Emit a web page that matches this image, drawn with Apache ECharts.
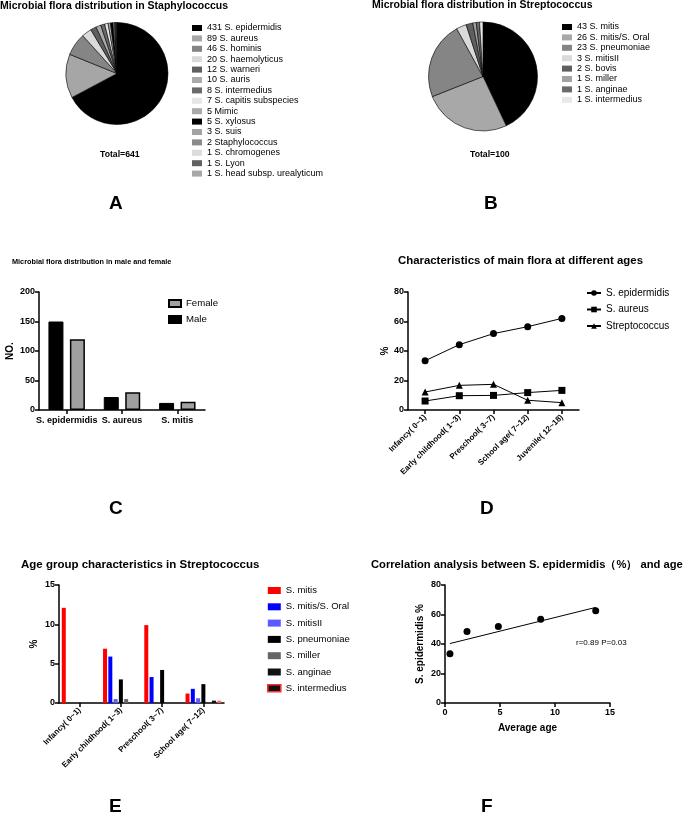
<!DOCTYPE html>
<html><head><meta charset="utf-8">
<script src="https://cdn.jsdelivr.net/npm/echarts@6/dist/echarts.min.js"></script>
<style>html,body{margin:0;padding:0;background:#fff}#c{width:685px;height:815px}</style>
</head><body><div id="c"></div>
<script>
// ---------- DATA ----------
const staphNames = ['S. epidermidis','S. aureus','S. hominis','S. haemolyticus','S. warneri','S. auris','S. intermedius','S. capitis subspecies','Mimic','S. xylosus','S. suis','Staphylococcus','S. chromogenes','S. Lyon','S. head subsp. urealyticum'];
const staphCounts = [431,89,46,20,12,10,8,7,5,5,3,2,1,1,1];
const strepNames = ['S. mitis','S. mitis/S. Oral','S. pneumoniae','S. mitisII','S. bovis','S. miller','S. anginae','S. intermedius'];
const strepCounts = [43,26,23,3,2,1,1,1];

const genderCategories = ['S. epidermidis','S. aureus','S. mitis'];
const maleCounts = [150,22,12];
const femaleCounts = [120,30,14];

const ageCategories = ['Infancy( 0~1)','Early childhood( 1~3)','Preschool( 3~7)','School age( 7~12)','Juvenile( 12~18)'];
const epiPctByAge = [33.4,44.3,51.8,56.5,62.1];
const aureusPctByAge = [6.1,9.7,9.9,11.8,13.3];
const strepPctByAge = [12.2,16.7,17.4,6.6,5.0];

const strepAgeCategories = ['Infancy( 0~1)','Early childhood( 1~3)','Preschool( 3~7)','School age( 7~12)'];
const eSeriesNames = ['S. mitis','S. mitis/S. Oral','S. mitisII','S. pneumoniae','S. miller','S. anginae','S. intermedius'];
const eMitis = [12.1,6.9,9.9,1.2];
const eMitisOral = [0,5.9,3.3,1.8];
const eMitisII = [0,0.5,0,0.6];
const ePneumoniae = [0,3.0,4.2,2.4];
const eMiller = [0,0.5,0,0];
const eAnginae = [0,0,0,0.3];
const eIntermedius = [0,0,0,0.3];

const avgAge = [0.45,2.0,4.85,8.7,13.7];
const epiPct = [33.4,48.4,51.8,56.8,62.5];
const fitLineX = [0.45,13.7];
const fitLineY = [40.3,64.8];
const corrText = 'r=0.89 P=0.03';

// ---------- STYLES ----------
const FONT = "'Liberation Sans', Arial, sans-serif";
const staphColors = ['#000000','#a6a6a6','#858585','#dadada','#5f5f5f','#aaaaaa','#6a6a6a','#e6e6e6','#a9a9a9','#000000','#a3a3a3','#8a8a8a','#dcdcdc','#616161','#a8a8a8'];
const strepColors = ['#000000','#a8a8a8','#858585','#dadada','#5f5f5f','#a3a3a3','#6a6a6a','#e8e8e8'];
const eColors = ['#ff0000','#0000ff','#5b5bff','#000000','#666666','#111111','#ff6666'];

const staphLabels = staphNames.map((n,i)=>staphCounts[i]+' '+n);
const strepLabels = strepNames.map((n,i)=>strepCounts[i]+' '+n);
const eData = [eMitis,eMitisOral,eMitisII,ePneumoniae,eMiller,eAnginae,eIntermedius];

function ttl(text,left,top,size,weight){
  return {text,left,top,padding:0,textStyle:{fontFamily:FONT,fontSize:size,fontWeight:weight||'bold',color:'#000'}};
}
const axisLine = {show:true,lineStyle:{color:'#000',width:1.5}};
const axisTick = {show:true,length:4,lineStyle:{color:'#000',width:1.5}};
const lblBold = {fontFamily:FONT,fontWeight:'bold',fontSize:9,color:'#000'};
function catX(gi,data,rot){
  return {type:'category',gridIndex:gi,data,axisLine,axisTick:Object.assign({alignWithLabel:true},axisTick),
    axisLabel:Object.assign({interval:0,rotate:rot||0,margin:6},lblBold,rot?{fontSize:8}:{}),splitLine:{show:false}};
}
function valY(gi,min,max,interval,name,gap){
  return {type:'value',gridIndex:gi,min,max,interval,axisLine,axisTick,
    axisLabel:Object.assign({margin:4},lblBold),splitLine:{show:false},
    name,nameLocation:'middle',nameGap:gap,nameRotate:90,
    nameTextStyle:{fontFamily:FONT,fontWeight:'bold',fontSize:10,color:'#000'}};
}
const noBorder = {borderWidth:0};

const option = {
  animation:false,
  backgroundColor:'#fff',
  title:[
    ttl('Microbial flora distribution in Staphylococcus',0,1,10.5),
    ttl('Microbial flora distribution in Streptococcus',372,0,10.5),
    ttl('Total=641',100,150,8.7),
    ttl('Total=100',470,150,8.7),
    ttl('A',109,194,19),
    ttl('B',484,194,19),
    ttl('Microbial flora distribution in male and female',12,258,7.3),
    ttl('Characteristics of main flora at different ages',398,255,11.4),
    ttl('C',109,499,19),
    ttl('D',480,499,19),
    ttl('Age group characteristics in Streptococcus',21,559,11.5),
    ttl('Correlation analysis between S. epidermidis（%） and age',371,559,11.2),
    ttl(corrText,576,639,8,'normal'),
    ttl('E',109,797,19),
    ttl('F',481,797,19)
  ],
  legend:[
    {orient:'vertical',left:192,top:23,padding:0,itemWidth:10,itemHeight:6,itemGap:0.4,icon:'rect',itemStyle:noBorder,
     data:staphLabels,textStyle:{fontFamily:FONT,fontSize:9,color:'#000',lineHeight:10},selectedMode:false},
    {orient:'vertical',left:562,top:22,padding:0,itemWidth:10,itemHeight:6,itemGap:0.4,icon:'rect',itemStyle:noBorder,
     data:strepLabels,textStyle:{fontFamily:FONT,fontSize:9,color:'#000',lineHeight:10},selectedMode:false},
    {orient:'vertical',left:168,top:298,padding:0,itemWidth:12,itemHeight:7,itemGap:5,icon:'rect',
     data:['Female','Male'],textStyle:{fontFamily:FONT,fontSize:9.6,color:'#000',lineHeight:11},selectedMode:false},
    {orient:'vertical',left:586,top:287,padding:0,itemWidth:14,itemHeight:7,itemGap:4.5,
     data:['S. epidermidis','S. aureus','Streptococcus'],textStyle:{fontFamily:FONT,fontSize:10,color:'#000',lineHeight:12},selectedMode:false},
    {orient:'vertical',left:267,top:585,padding:0,itemWidth:13,itemHeight:7,itemGap:5.3,icon:'rect',
     data:eSeriesNames.map(n=>n==='S. intermedius'
        ?{name:n,itemStyle:{color:'#111',borderColor:'#ff3030',borderWidth:1.6}}
        :{name:n}),
     textStyle:{fontFamily:FONT,fontSize:9.5,color:'#000',lineHeight:11},selectedMode:false}
  ],
  grid:[
    {left:39,top:292,width:166,height:118,outerBoundsMode:'none',containLabel:false},
    {left:408,top:292,width:171,height:118,outerBoundsMode:'none',containLabel:false},
    {left:59,top:585,width:165,height:118,outerBoundsMode:'none',containLabel:false},
    {left:445,top:585,width:165,height:118,outerBoundsMode:'none',containLabel:false}
  ],
  xAxis:[
    catX(0,genderCategories),
    catX(1,ageCategories,45),
    catX(2,strepAgeCategories,45),
    {type:'value',gridIndex:3,min:0,max:15,interval:5,axisLine,axisTick,
     axisLabel:Object.assign({margin:5},lblBold,{fontSize:9}),splitLine:{show:false},
     name:'Average age',nameLocation:'middle',nameGap:20,
     nameTextStyle:{fontFamily:FONT,fontWeight:'bold',fontSize:10,color:'#000'}}
  ],
  yAxis:[
    valY(0,0,200,50,'NO.',24),
    valY(1,0,80,20,'%',17),
    valY(2,0,15,5,'%',20),
    valY(3,0,80,20,'S. epidermidis %',20)
  ],
  series:[
    {type:'pie',name:'Staph',center:[117,73.5],radius:51,startAngle:90,clockwise:true,
     label:{show:false},labelLine:{show:false},silent:true,
     itemStyle:{borderColor:'#000',borderWidth:0.6},
     data:staphLabels.map((n,i)=>({name:n,value:staphCounts[i],itemStyle:{color:staphColors[i]}}))},
    {type:'pie',name:'Strep',center:[483,76.5],radius:54.5,startAngle:90,clockwise:true,
     label:{show:false},labelLine:{show:false},silent:true,
     itemStyle:{borderColor:'#000',borderWidth:0.6},
     data:strepLabels.map((n,i)=>({name:n,value:strepCounts[i],itemStyle:{color:strepColors[i]}}))},
    {type:'bar',name:'Male',xAxisIndex:0,yAxisIndex:0,data:maleCounts,barWidth:15,barGap:'43%',
     itemStyle:{color:'#000',borderColor:'#000',borderWidth:1}},
    {type:'bar',name:'Female',xAxisIndex:0,yAxisIndex:0,data:femaleCounts,barWidth:15,barGap:'43%',
     itemStyle:{color:'#a0a0a0',borderColor:'#000',borderWidth:1.5}},
    {type:'line',name:'S. epidermidis',xAxisIndex:1,yAxisIndex:1,data:epiPctByAge,symbol:'circle',symbolSize:7,
     lineStyle:{color:'#000',width:1},itemStyle:{color:'#000'}},
    {type:'line',name:'S. aureus',xAxisIndex:1,yAxisIndex:1,data:aureusPctByAge,symbol:'rect',symbolSize:7,
     lineStyle:{color:'#000',width:1},itemStyle:{color:'#000'}},
    {type:'line',name:'Streptococcus',xAxisIndex:1,yAxisIndex:1,data:strepPctByAge,symbol:'triangle',symbolSize:7,
     lineStyle:{color:'#000',width:1},itemStyle:{color:'#000'}},
    ...eSeriesNames.map((n,i)=>({
      type:'bar',name:n,xAxisIndex:2,yAxisIndex:2,data:eData[i],barWidth:4,barGap:'32%',
      itemStyle:{color:eColors[i]}
    })),
    {type:'scatter',name:'pts',xAxisIndex:3,yAxisIndex:3,symbolSize:7,itemStyle:{color:'#000',opacity:1},
     data:avgAge.map((x,i)=>[x,epiPct[i]])},
    {type:'line',name:'fit',xAxisIndex:3,yAxisIndex:3,showSymbol:false,symbol:'none',
     lineStyle:{color:'#000',width:1},data:fitLineX.map((x,i)=>[x,fitLineY[i]])}
  ]
};
const chart = echarts.init(document.getElementById('c'),null,{renderer:'canvas'});
chart.setOption(option);
</script></body></html>
